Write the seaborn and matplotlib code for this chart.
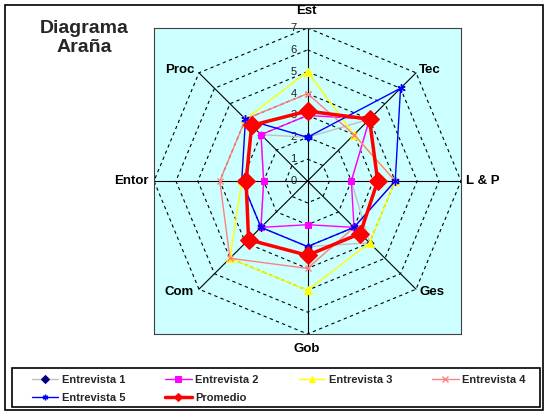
import numpy as np
import pandas as pd
import matplotlib
matplotlib.use("Agg")
import matplotlib.pyplot as plt
import seaborn as sns
from matplotlib.patches import Rectangle

categorias = ['Est', 'Tec', 'L & P', 'Ges', 'Gob', 'Com', 'Entor', 'Proc']
entrevista_1 = [2, 4, 2, 4, 3, 3, 2, 3]
entrevista_2 = [3, 4, 2, 3, 2, 3, 2, 3]
entrevista_3 = [5, 3, 4, 4, 5, 5, 3, 4]
entrevista_4 = [4, 3, 4, 3, 4, 5, 4, 4]
entrevista_5 = [2, 6, 4, 3, 3, 3, 3, 4]
promedio = [3.2, 4.0, 3.2, 3.4, 3.4, 3.8, 2.8, 3.6]
escala = [0, 1, 2, 3, 4, 5, 6, 7]

W, H = 551, 417


def polar_xy(valores):
    # angle measured clockwise from the top, closed path
    n = len(valores)
    ang = np.arange(n) * 2 * np.pi / n
    r = np.asarray(valores, dtype=float)
    x = r * np.sin(ang)
    y = r * np.cos(ang)
    return np.append(x, x[0]), np.append(y, y[0])


def px_box(x0, y0, x1, y1):
    # pixel box (top-left origin) -> figure fraction rect
    return [x0 / W, 1 - y1 / H, (x1 - x0) / W, (y1 - y0) / H]


sns.set_theme(style="white")
plt.rcParams['font.family'] = ['Liberation Sans', 'DejaVu Sans']

fig = plt.figure(figsize=(W / 100, H / 100), dpi=100)
fig.patch.set_facecolor('white')

ax = fig.add_axes(px_box(154, 28, 461, 334))
ax.set_facecolor('#CCFFFF')
ax.set_xlim(-7, 7)
ax.set_ylim(-7, 7)
for s in ax.spines.values():
    s.set_color('#404040')
    s.set_linewidth(0.8)
ax.set_xticks([])
ax.set_yticks([])

# octagonal grid rings
for r in escala[1:]:
    gx, gy = polar_xy([r] * len(categorias))
    ax.plot(gx, gy, color='black', lw=0.8, linestyle=(0, (3, 3)), zorder=1)

# spokes
n = len(categorias)
for i in range(n):
    a = i * 2 * np.pi / n
    ax.plot([0, 7 * np.sin(a)], [0, 7 * np.cos(a)], color='black', lw=0.8, zorder=1)

# scale labels
for r in escala:
    ax.text(-0.5, r, str(r), ha='right', va='center', fontsize=8, color='#202020', zorder=2)

series = [
    ('Entrevista 1', entrevista_1, dict(color='#C0C0C0', lw=1, marker='D', markersize=3.5,
                                         markerfacecolor='#000080', markeredgecolor='#000080')),
    ('Entrevista 2', entrevista_2, dict(color='#FF00FF', lw=1, marker='s', markersize=5,
                                         markerfacecolor='#FF00FF', markeredgecolor='#FF00FF')),
    ('Entrevista 3', entrevista_3, dict(color='#FFFF00', lw=1, marker='^', markersize=5.5,
                                         markerfacecolor='#FFFF00', markeredgecolor='#FFFF00')),
    ('Entrevista 4', entrevista_4, dict(color='#FF8080', lw=1, marker='x', markersize=5,
                                         markeredgecolor='#FF8080', markeredgewidth=1)),
    ('Entrevista 5', entrevista_5, dict(color='#0000FF', lw=1, marker=(6, 2, 0), markersize=6,
                                         markeredgecolor='#0000FF', markeredgewidth=1)),
    ('Promedio', promedio, dict(color='#FF0000', lw=2.5, marker='D', markersize=9,
                                 markerfacecolor='#FF0000', markeredgecolor='#FF0000')),
]

for k, (nombre, vals, estilo) in enumerate(series):
    sx, sy = polar_xy(vals)
    df = pd.DataFrame({'x': sx, 'y': sy})
    sns.lineplot(data=df, x='x', y='y', sort=False, estimator=None, ax=ax,
                 label=nombre, zorder=3 + k, **estilo)
ax.set_xlabel('')
ax.set_ylabel('')

handles, labels = ax.get_legend_handles_labels()
ax.get_legend().remove()

# category labels
lbl = dict(fontsize=9.5, fontweight='bold', color='black')
fig.text(306.5 / W, 1 - 11.5 / H, 'Est', ha='center', va='center', **lbl)
fig.text(419 / W, 1 - 70 / H, 'Tec', ha='left', va='center', **lbl)
fig.text(466 / W, 1 - 181 / H, 'L & P', ha='left', va='center', **lbl)
fig.text(420 / W, 1 - 292 / H, 'Ges', ha='left', va='center', **lbl)
fig.text(306.5 / W, 1 - 349 / H, 'Gob', ha='center', va='center', **lbl)
fig.text(194 / W, 1 - 292 / H, 'Com', ha='right', va='center', **lbl)
fig.text(149 / W, 1 - 181 / H, 'Entor', ha='right', va='center', **lbl)
fig.text(194 / W, 1 - 70 / H, 'Proc', ha='right', va='center', **lbl)

fig.text(84 / W, 1 - 38 / H, 'Diagrama\nAraña', ha='center', va='center',
         fontsize=14, fontweight='bold', linespacing=1.2)

# outer chart border and legend box
fig.patches.append(Rectangle((5 / W, 1 - 410 / H), 538 / W, 405 / H, transform=fig.transFigure,
                             fill=False, edgecolor='black', lw=1.2))
fig.patches.append(Rectangle((12 / W, 1 - 407 / H), 528 / W, 39 / H, transform=fig.transFigure,
                             fill=False, edgecolor='black', lw=1.2))

# row-major order like the original legend (matplotlib fills columns first)
orden = [0, 4, 1, 5, 2, 3]
leg = fig.legend([handles[i] for i in orden], [labels[i] for i in orden], ncol=4,
                 loc='upper left', bbox_to_anchor=(26 / W, 1 - 369 / H),
                 frameon=False, borderpad=0, prop={'weight': 'bold', 'size': 8},
                 handlelength=2.4, handletextpad=0.3, columnspacing=3.6, labelspacing=0.75)
for h in leg.get_lines():
    h.set_markersize(4)

fig.savefig('out.png', dpi=100, facecolor='white')
